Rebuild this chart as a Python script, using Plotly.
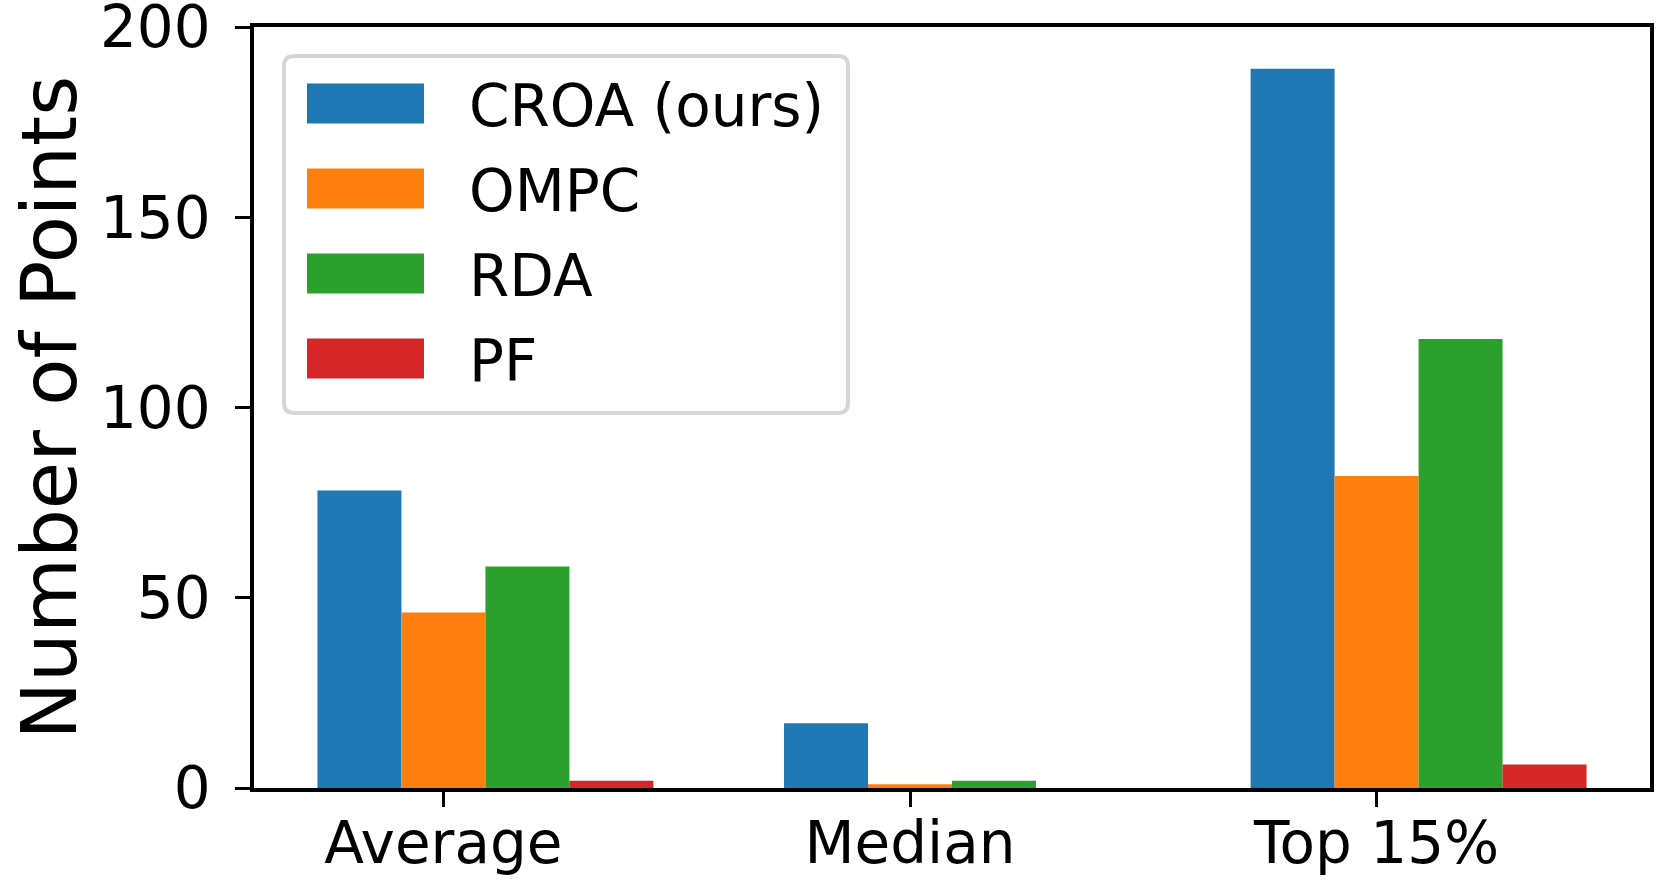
import plotly.graph_objects as go

categories = ["Average", "Median", "Top 15%"]
series_names = ["CROA (ours)", "OMPC", "RDA", "PF"]
croa = [78.2, 17.0, 189.0]
ompc = [46.1, 1.0, 82.0]
rda = [58.2, 1.9, 118.0]
pf = [1.9, 0.0, 6.2]
series_values = [croa, ompc, rda, pf]
colors = ["#1f77b4", "#ff7f0e", "#2ca02c", "#d62728"]
y_ticks = [0, 50, 100, 150, 200]

W, H = 1662, 881
L, R, T, B = 254, 12, 27, 93
PW, PH = W - L - R, H - T - B
bar_w = 0.18
FONT = "DejaVu Sans"

fig = go.Figure()
for k, (name, vals, col) in enumerate(zip(series_names, series_values, colors)):
    xs = [i + (k - 1) * bar_w for i in range(len(categories))]
    fig.add_trace(go.Bar(x=xs, y=vals, width=bar_w, name=name,
                         marker=dict(color=col, line=dict(width=0)),
                         showlegend=False))

def px_x(p):
    return (p - L) / PW

def px_y(p):
    return (H - B - p) / PH

# custom legend (matplotlib style)
bx0, bx1, by0, by1 = 284, 848, 56, 413
r = 10
rx, ry = r / PW, r / PH
x0, x1, y0, y1 = px_x(bx0), px_x(bx1), px_y(by0), px_y(by1)
path = (f"M {x0+rx},{y0} L {x1-rx},{y0} Q {x1},{y0} {x1},{y0-ry} "
        f"L {x1},{y1+ry} Q {x1},{y1} {x1-rx},{y1} L {x0+rx},{y1} "
        f"Q {x0},{y1} {x0},{y1+ry} L {x0},{y0-ry} Q {x0},{y0} {x0+rx},{y0} Z")
shapes = [dict(type="path", path=path, xref="paper", yref="paper",
               line=dict(color="#d6d6d6", width=4), fillcolor="rgba(255,255,255,0.8)",
               layer="above")]
annotations = []
row0, row_step = 103.5, 85.0
for k, (name, col) in enumerate(zip(series_names, colors)):
    cy = row0 + k * row_step
    shapes.append(dict(type="rect", xref="paper", yref="paper",
                       x0=px_x(307), x1=px_x(424), y0=px_y(cy - 20), y1=px_y(cy + 20),
                       fillcolor=col, line=dict(width=0), layer="above"))
    annotations.append(dict(text=name, xref="paper", yref="paper",
                            x=px_x(467), y=px_y(cy + 2), xanchor="left", yanchor="middle",
                            showarrow=False, font=dict(family=FONT, size=58, color="black")))

annotations.append(dict(text="Number of Points", xref="paper", yref="paper",
                        x=px_x(49), y=0.5, textangle=-90, xanchor="center", yanchor="middle",
                        showarrow=False, font=dict(family=FONT, size=77, color="black")))

fig.update_layout(
    width=W, height=H,
    margin=dict(l=L, r=R, t=T, b=B, pad=0, autoexpand=False),
    paper_bgcolor="white", plot_bgcolor="white",
    barmode="overlay",
    font=dict(family=FONT, size=58, color="black"),
    shapes=shapes, annotations=annotations,
    showlegend=False,
)
fig.update_xaxes(range=[-0.406, 2.586], tickmode="array",
                 tickvals=list(range(len(categories))), ticktext=categories,
                 showline=True, linecolor="black", linewidth=3.5, mirror=True,
                 ticks="outside", ticklen=15, tickwidth=3, tickcolor="black",
                 showgrid=False, zeroline=False, automargin=False,
                 ticklabelstandoff=-13,
                 tickfont=dict(family=FONT, size=58, color="black"))
fig.update_yaxes(range=[0, 200.0001], tickmode="array", tickvals=y_ticks,
                 ticktext=[str(v) for v in y_ticks],
                 showline=True, linecolor="black", linewidth=3.5, mirror=True,
                 ticks="outside", ticklen=15, tickwidth=3, tickcolor="black",
                 showgrid=False, zeroline=False, automargin=False,
                 ticklabeloverflow="allow", ticklabelstandoff=13,
                 tickfont=dict(family=FONT, size=58, color="black"))

fig.write_html("out.html", config={"displayModeBar": False},
               post_script="document.body.style.margin='0';document.body.style.overflow='hidden';")
